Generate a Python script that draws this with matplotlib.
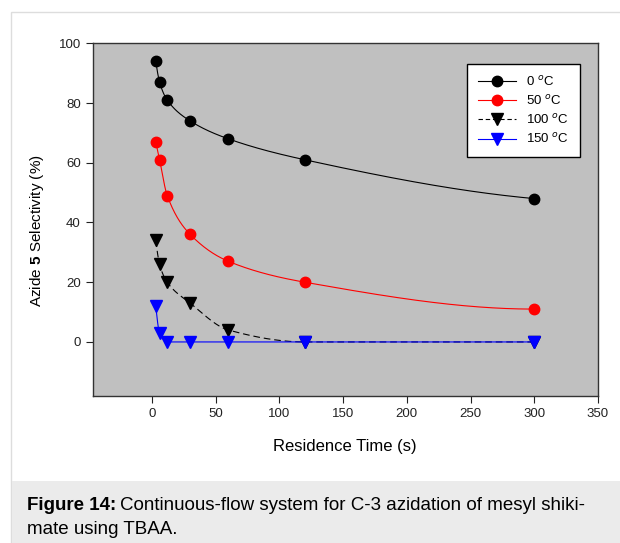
import numpy as np
import matplotlib
matplotlib.use("Agg")
import matplotlib.pyplot as plt
from matplotlib.patches import Rectangle

plt.rcParams['font.family'] = ['Liberation Sans', 'DejaVu Sans']
plt.rcParams['mathtext.fontset'] = 'custom'
plt.rcParams['mathtext.rm'] = 'Liberation Sans'
plt.rcParams['mathtext.bf'] = 'Liberation Sans:bold'

# Data
time_s = [3, 6, 12, 30, 60, 120, 300]
sel_0C = [94, 87, 81, 74, 68, 61, 48]
sel_50C = [67, 61, 49, 36, 27, 20, 11]
sel_100C = [34, 26, 20, 13, 4, 0, 0]
sel_150C = [12, 3, 0, 0, 0, 0, 0]
labels = ['0 $^{o}$C', '50 $^{o}$C', '100 $^{o}$C', '150 $^{o}$C']
x_ticks = [0, 50, 100, 150, 200, 250, 300, 350]
y_ticks = [0, 20, 40, 60, 80, 100]


def pchip(x, y, xs):
    x = np.asarray(x, float); y = np.asarray(y, float)
    h = np.diff(x); d = np.diff(y) / h
    n = len(x); m = np.zeros(n)
    for k in range(1, n - 1):
        if d[k - 1] * d[k] <= 0:
            m[k] = 0
        else:
            w1 = 2 * h[k] + h[k - 1]; w2 = h[k] + 2 * h[k - 1]
            m[k] = (w1 + w2) / (w1 / d[k - 1] + w2 / d[k])
    def end(h0, h1, d0, d1):
        v = ((2 * h0 + h1) * d0 - h0 * d1) / (h0 + h1)
        if np.sign(v) != np.sign(d0):
            v = 0
        elif np.sign(d0) != np.sign(d1) and abs(v) > abs(3 * d0):
            v = 3 * d0
        return v
    m[0] = end(h[0], h[1], d[0], d[1])
    m[-1] = end(h[-1], h[-2], d[-1], d[-2])
    idx = np.clip(np.searchsorted(x, xs) - 1, 0, n - 2)
    t = (xs - x[idx]) / h[idx]
    h00 = 2 * t**3 - 3 * t**2 + 1; h10 = t**3 - 2 * t**2 + t
    h01 = -2 * t**3 + 3 * t**2; h11 = t**3 - t**2
    return h00 * y[idx] + h10 * h[idx] * m[idx] + h01 * y[idx + 1] + h11 * h[idx] * m[idx + 1]


fig = plt.figure(figsize=(6.2, 5.43), dpi=100)
W, H = 620, 543
# outer frame
fig.patches.append(Rectangle((11 / W, -0.01), 1.0, 1 - 12 / H + 0.01, transform=fig.transFigure,
                             facecolor='white', edgecolor='#dddddd', lw=1.0, zorder=-3))
# caption box
fig.patches.append(Rectangle((11.5 / W, 0), 1.0, (H - 481) / H, transform=fig.transFigure,
                             facecolor='#ebebeb', edgecolor='none', zorder=-2))

ax = fig.add_axes([93.3 / W, 1 - 395.7 / H, (598 - 93.3) / W, (395.7 - 43.3) / H])
ax.set_facecolor('#c0c0c0')
ax.set_xlim(-46, 350)
ax.set_ylim(-18, 100)

xs = np.linspace(min(time_s), max(time_s), 600)
series = [
    (sel_0C, 'black', 'o', '-'),
    (sel_50C, 'red', 'o', '-'),
    (sel_100C, 'black', 'v', (0, (6, 3.5))),
    (sel_150C, 'blue', 'v', '-'),
]
handles = []
for (ys, c, mk, ls), lab in zip(series, labels):
    ms = 7.5 if mk == 'o' else 8
    ax.plot(xs, pchip(time_s, ys, xs), color=c, lw=0.8, ls=ls, zorder=2)
    ax.plot(time_s, ys, ls='none', marker=mk, color=c, ms=ms, zorder=3)
    hls = (0, (4, 2.5)) if ls != '-' else ls
    h, = ax.plot([], [], color=c, lw=0.8, ls=hls, marker=mk, ms=ms)
    handles.append(h)

ax.set_xticks(x_ticks)
ax.set_yticks(y_ticks)
ax.tick_params(direction='out', length=5, width=0.8, labelsize=9.5, colors='#222222', pad=4)
for s in ax.spines.values():
    s.set_color('#333333'); s.set_linewidth(1.0)

ax.set_xlabel('Residence Time (s)', fontsize=12)
ax.set_ylabel(r'Azide $\mathbf{5}$ Selectivity (%)', fontsize=11)
ax.xaxis.set_label_coords((345 - 93.3) / 504.7, (395.7 - 447) / 352.4)
ax.yaxis.set_label_coords((37 - 93.3) / 504.7, (395.7 - 231) / 352.4)
ax.xaxis.label.set_va('center')
ax.yaxis.label.set_va('center')

leg = ax.legend(handles, labels, loc='upper left', bbox_to_anchor=(0.7405, 0.9413),
                fontsize=9.5, handlelength=2.9, frameon=True, fancybox=False,
                borderpad=0.8, labelspacing=0.4, handletextpad=0.8, borderaxespad=0)
leg.get_frame().set_edgecolor('black')
leg.get_frame().set_linewidth(1.0)
leg.get_frame().set_facecolor('white')
leg.get_frame().set_alpha(1)

cap_fs = 13.5
t1 = fig.text(27 / W, 1 - 506 / H, 'Figure 14:', fontsize=cap_fs, fontweight='bold',
              va='center', ha='left')
fig.canvas.draw()
bb = t1.get_window_extent(renderer=fig.canvas.get_renderer())
fig.text((bb.x1 + 4) / W, 1 - 506 / H, 'Continuous-flow system for C-3 azidation of mesyl shiki-',
         fontsize=cap_fs, va='center', ha='left')
fig.text(27 / W, 1 - 529 / H, 'mate using TBAA.', fontsize=cap_fs, va='center', ha='left')

fig.savefig('out.png', dpi=100)
